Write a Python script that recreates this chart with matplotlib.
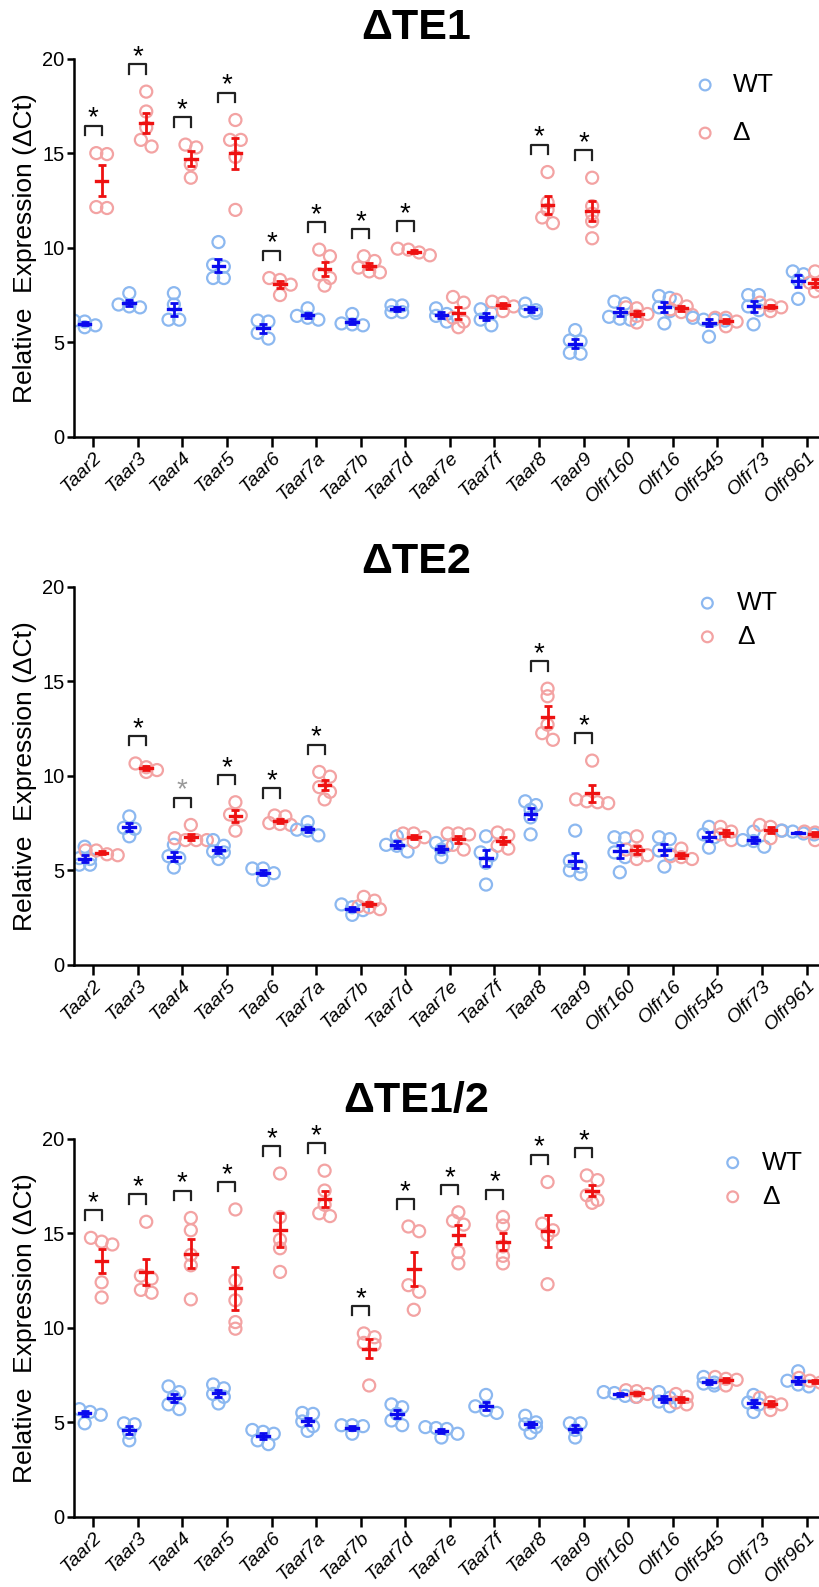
import matplotlib
matplotlib.use('Agg')
import matplotlib.pyplot as plt
import numpy as np

plt.rcParams['font.family'] = ['Liberation Sans', 'DejaVu Sans']

genes = ['Taar2', 'Taar3', 'Taar4', 'Taar5', 'Taar6', 'Taar7a', 'Taar7b', 'Taar7d',
         'Taar7e', 'Taar7f', 'Taar8', 'Taar9', 'Olfr160', 'Olfr16', 'Olfr545', 'Olfr73', 'Olfr961']

#-- dTE1
wt_te1 = [[6.15, 6.1, 5.8, 5.9], [7.6, 7.0, 6.9, 6.85], [7.6, 7.0, 6.2, 6.2],
          [10.3, 9.1, 9.0, 8.4, 8.4], [6.15, 6.1, 5.5, 5.2], [6.8, 6.4, 6.2, 6.3],
          [6.5, 6.0, 5.95, 5.9], [6.95, 6.95, 6.6, 6.6], [6.8, 6.5, 6.4, 6.1],
          [6.75, 6.55, 6.2, 5.9], [7.05, 6.7, 6.65, 6.55], [5.65, 5.1, 5.05, 4.45, 4.4],
          [7.15, 7.05, 6.35, 6.2, 6.25], [7.45, 7.35, 6.85, 6.65, 6.0], [6.3, 6.2, 6.15, 5.3, 6.2],
          [7.5, 7.5, 6.9, 6.7, 5.95], [8.75, 8.6, 8.3, 7.3]]
ko_te1 = [[15.0, 14.95, 12.15, 12.1], [18.25, 17.2, 16.35, 15.7, 15.35], [15.45, 15.3, 14.4, 13.7],
          [16.75, 15.7, 15.7, 14.8, 12.0], [8.4, 8.3, 8.05, 7.5], [9.9, 9.55, 8.6, 8.4, 8.0],
          [9.55, 9.3, 8.95, 8.7, 8.75], [9.95, 9.9, 9.75, 9.6], [7.4, 7.1, 6.3, 6.1, 5.8],
          [7.15, 7.1, 6.9, 6.65], [14.0, 12.4, 12.0, 11.6, 11.3], [13.7, 12.2, 11.8, 11.4, 10.5],
          [6.85, 6.8, 6.5, 6.4, 6.05], [7.25, 6.9, 6.75, 6.6, 6.45], [6.3, 6.3, 6.1, 5.85],
          [7.1, 6.95, 6.85, 6.65], [8.75, 8.15, 8.0, 7.7]]
sig_te1 = ['Taar2', 'Taar3', 'Taar4', 'Taar5', 'Taar6', 'Taar7a', 'Taar7b', 'Taar7d', 'Taar8', 'Taar9']
weak_te1 = []

#-- dTE2
wt_te2 = [[6.25, 5.65, 5.6, 5.3, 5.3], [7.85, 7.25, 7.2, 6.8], [6.35, 5.75, 5.65, 5.15],
          [6.6, 6.3, 6.0, 5.95, 5.6], [5.1, 5.1, 4.85, 4.5], [7.55, 7.15, 7.1, 6.85],
          [3.2, 3.05, 2.9, 2.65], [6.8, 6.35, 6.3, 6.0], [6.45, 6.3, 6.1, 5.7],
          [6.8, 5.95, 5.8, 5.4, 4.25], [8.65, 8.45, 8.2, 7.8, 6.9], [7.1, 5.5, 5.2, 5.0, 4.8],
          [6.75, 6.7, 5.95, 5.7, 4.9], [6.75, 6.65, 6.05, 5.85, 5.2], [7.3, 6.9, 6.75, 6.2],
          [7.05, 6.6, 6.55, 6.25], [7.1, 7.05, 6.95, 6.9]]
ko_te2 = [[6.05, 6.05, 5.85, 5.8], [10.65, 10.45, 10.3, 10.2], [7.4, 6.7, 6.6, 6.6, 6.6],
          [8.6, 7.95, 7.9, 7.1], [7.9, 7.85, 7.5, 7.4, 7.45], [10.2, 9.95, 9.4, 9.15, 8.75],
          [3.6, 3.4, 3.05, 2.95, 3.1], [6.95, 6.95, 6.75, 6.5], [6.95, 6.95, 6.9, 6.35, 6.1],
          [7.0, 6.85, 6.3, 6.15], [14.6, 14.2, 12.7, 12.25, 11.9], [10.8, 8.75, 8.65, 8.6, 8.55],
          [6.8, 6.1, 6.05, 5.8, 5.6], [6.15, 5.75, 5.7, 5.6], [7.3, 7.05, 6.9, 6.6],
          [7.4, 7.3, 7.1, 6.7], [7.05, 7.0, 6.95, 6.6]]
sig_te2 = ['Taar3', 'Taar4', 'Taar5', 'Taar6', 'Taar7a', 'Taar8', 'Taar9']
weak_te2 = ['Taar4']

#-- dTE1/2
wt_te12 = [[5.75, 5.7, 5.55, 5.4, 4.95], [4.95, 4.9, 4.45, 4.05], [6.9, 6.6, 6.35, 5.95, 5.7],
           [7.0, 6.8, 6.5, 6.35, 6.0], [4.6, 4.5, 4.4, 4.05, 3.85], [5.5, 5.45, 5.05, 4.8, 4.55],
           [4.85, 4.85, 4.8, 4.4], [5.95, 5.8, 5.45, 5.1, 4.85], [4.75, 4.7, 4.65, 4.4, 4.2],
           [6.45, 5.85, 5.65, 5.5], [5.35, 5.0, 4.9, 4.75, 4.45], [4.95, 4.95, 4.6, 4.2],
           [6.6, 6.55, 6.4, 6.35], [6.6, 6.3, 6.1, 5.85], [7.4, 7.1, 7.05, 6.95],
           [6.45, 6.05, 5.95, 5.55], [7.7, 7.2, 7.0, 6.9]]
ko_te12 = [[14.75, 14.55, 14.4, 12.4, 11.6], [15.6, 12.75, 12.6, 12.0, 11.85],
           [15.8, 15.15, 13.85, 13.3, 11.5], [16.25, 12.5, 11.45, 10.3, 9.95],
           [18.15, 15.85, 14.65, 14.2, 12.95], [18.3, 17.25, 16.5, 16.05, 15.9],
           [9.7, 9.5, 9.2, 9.1, 6.95], [15.35, 15.1, 12.25, 11.9, 10.95],
           [16.1, 15.65, 15.45, 14.0, 13.4], [15.85, 15.4, 14.3, 13.8, 13.4],
           [17.7, 15.5, 15.15, 14.9, 12.3], [18.05, 17.8, 17.0, 16.75, 16.6],
           [6.7, 6.65, 6.5, 6.35], [6.5, 6.35, 6.05, 5.95], [7.4, 7.3, 7.25, 6.95],
           [6.3, 6.05, 5.95, 5.65], [7.35, 7.2, 7.1, 7.0]]
sig_te12 = genes[:12]
weak_te12 = []

wt_pt = '#8cb8f0'
ko_pt = '#f3a3a3'
wt_line = '#0a0aee'
ko_line = '#ee1111'


def swarm(vals, center, step=0.24, rowh=0.35):
    # rows of near-equal values get spread side by side
    vals = np.asarray(vals, float)
    order = np.argsort(-vals)
    rows = []
    for k in order:
        if rows and vals[rows[-1][0]] - vals[k] < rowh:
            rows[-1].append(k)
        else:
            rows.append([k])
    xs = np.zeros(len(vals))
    for r in rows:
        n = len(r)
        for j, k in enumerate(r):
            xs[k] = center + (j - (n - 1) / 2.0) * step
    return xs


def draw_panel(fig, rect, title, title_y, wt, ko, sig, weak, leg):
    ax = fig.add_axes(rect)
    for i in range(len(genes)):
        for vals, off, pc, lc in [(wt[i], -0.19, wt_pt, wt_line), (ko[i], 0.19, ko_pt, ko_line)]:
            xc = i + off
            ax.scatter(swarm(vals, xc), vals, s=75, facecolors='none', edgecolors=pc,
                       linewidths=1.6, zorder=2)
            m = np.mean(vals)
            se = np.std(vals, ddof=1) / np.sqrt(len(vals))
            ax.plot([xc - 0.13, xc + 0.13], [m, m], color=lc, lw=2.4, zorder=4)
            ax.errorbar(xc, m, yerr=se, color=lc, capsize=3, elinewidth=2, capthick=2, zorder=4)
        if genes[i] in sig:
            top = max(ko[i]) + 1.45
            ax.plot([i - 0.19, i - 0.19, i + 0.19, i + 0.19], [top - 0.5, top, top, top - 0.5],
                    color='#222222', lw=1.6, zorder=3)
            sc = '#999999' if genes[i] in weak else 'black'
            ax.text(i, top + 0.0, '*', ha='center', va='baseline', fontsize=20, color=sc)

    ax.set_xlim(-0.43, 16.3)
    ax.set_ylim(0, 20)
    ax.set_yticks([0, 5, 10, 15, 20])
    ax.set_xticks(range(len(genes)))
    ax.set_xticklabels(genes, rotation=45, ha='right', rotation_mode='anchor',
                       fontstyle='italic', fontsize=14)
    ax.tick_params(axis='y', length=5, width=1.8, labelsize=14.5, pad=2)
    ax.tick_params(axis='x', length=7, width=1.8, pad=1.5)
    for s in ['top', 'right']:
        ax.spines[s].set_visible(False)
    for s in ['left', 'bottom']:
        ax.spines[s].set_linewidth(1.8)

    # legend, drawn by hand
    lx, tx, y1, y2 = leg
    for yy, c, lab in [(y1, wt_pt, 'WT'), (y2, ko_pt, '\u0394')]:
        ax.scatter([lx], [yy], s=60, facecolors='none', edgecolors=c, linewidths=1.6,
                   transform=ax.transAxes, clip_on=False)
        ax.text(tx, yy, lab, transform=ax.transAxes, va='center', ha='left', fontsize=19)

    fig.text(0.507, title_y, title, ha='center', va='center', fontsize=31, fontweight='bold')
    fig.text(0.030, rect[1] + rect[3] / 2, 'Relative  Expression (\u0394Ct)', rotation=90,
             ha='center', va='center', fontsize=19)
    return ax


fig = plt.figure(figsize=(8.2, 15.87), dpi=100)
left = 74 / 820.0
width = 1 - left
h = 378.5 / 1587.0

draw_panel(fig, [left, 1 - 437 / 1587.0, width, h], '\u0394TE1', 1 - 28 / 1587.0,
           wt_te1, ko_te1, sig_te1, weak_te1, (0.846, 0.883, 0.930, 0.803))
draw_panel(fig, [left, 1 - 965 / 1587.0, width, h], '\u0394TE2', 1 - 562 / 1587.0,
           wt_te2, ko_te2, sig_te2, weak_te2, (0.849, 0.889, 0.956, 0.867))
draw_panel(fig, [left, 1 - 1517 / 1587.0, width, h], '\u0394TE1/2', 1 - 1101 / 1587.0,
           wt_te12, ko_te12, sig_te12, weak_te12, (0.883, 0.922, 0.936, 0.846))

fig.savefig('out.png', dpi=100)
